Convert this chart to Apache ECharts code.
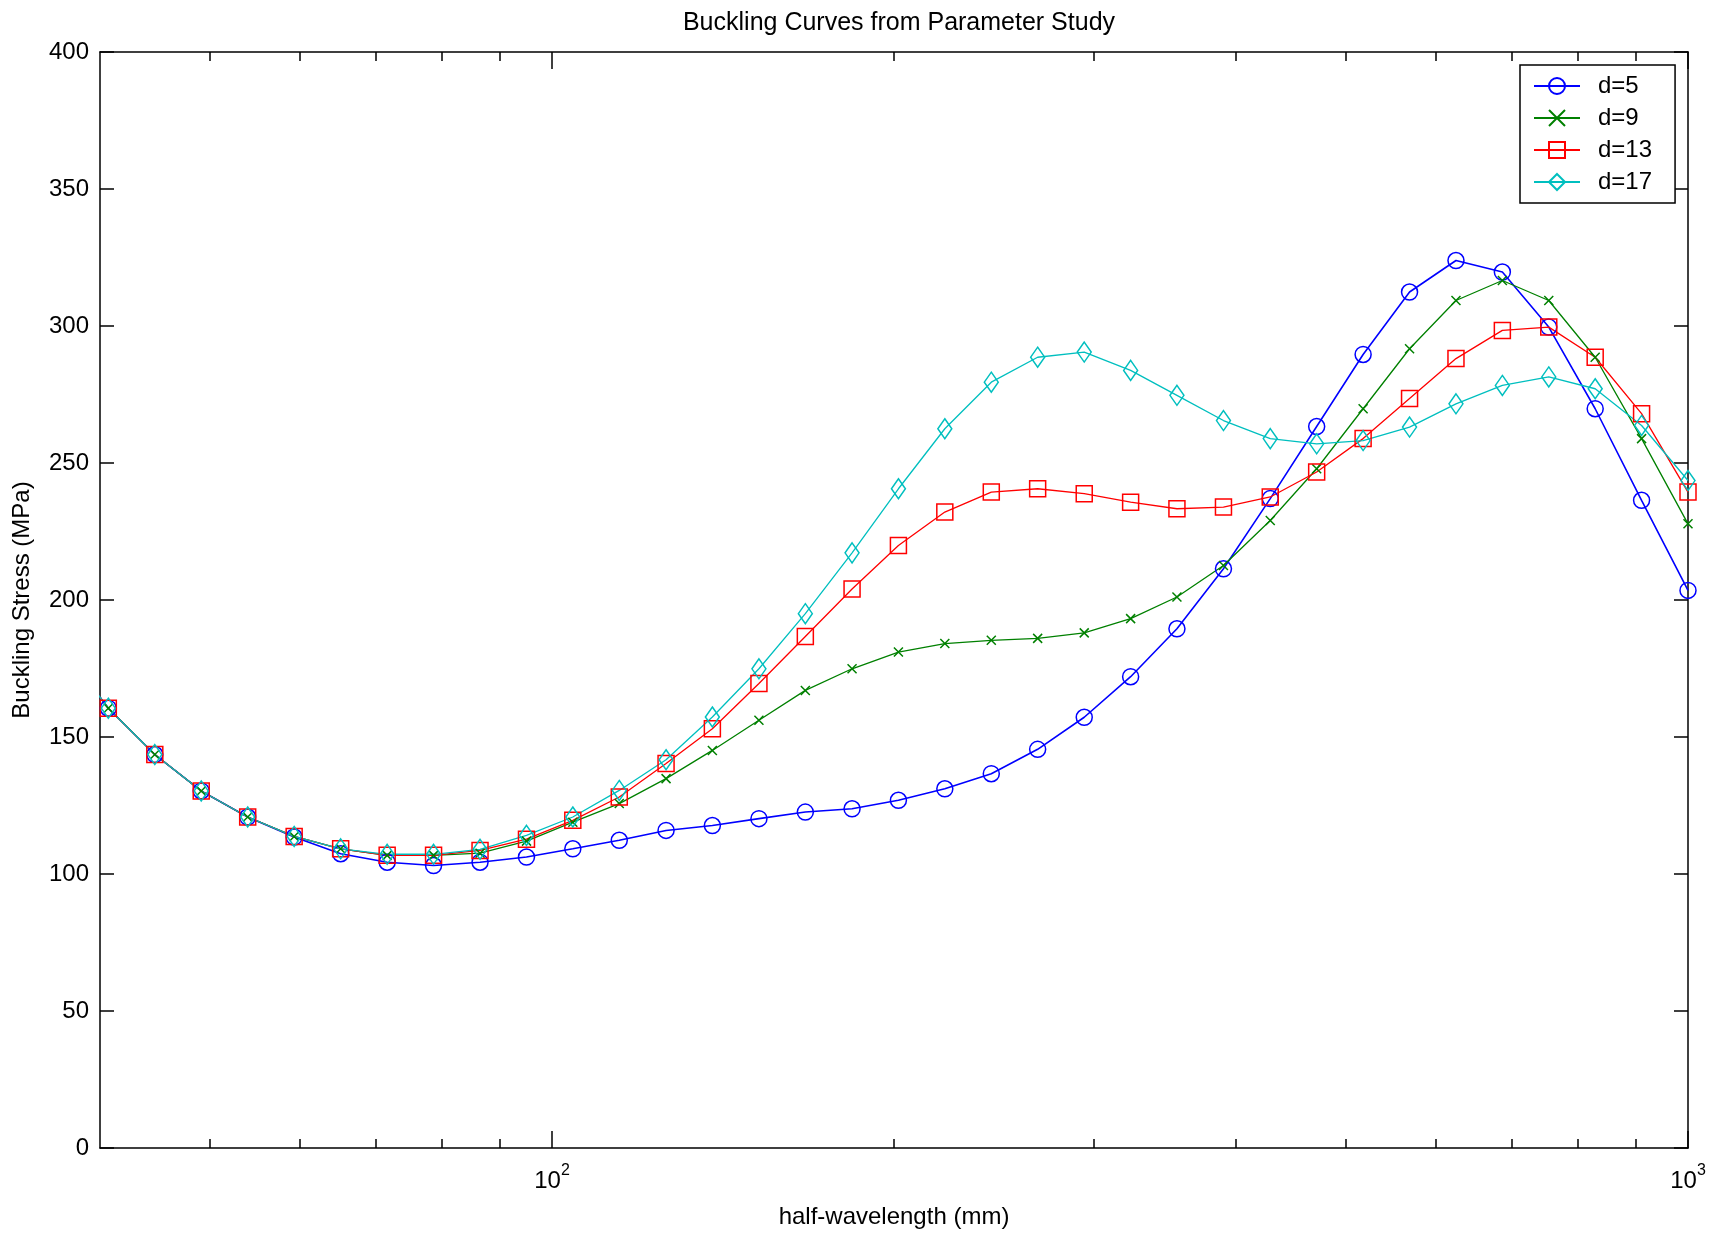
<!DOCTYPE html>
<html><head><meta charset="utf-8">
<script src="https://cdn.jsdelivr.net/npm/echarts@6/dist/echarts.min.js"></script>
<style>html,body{margin:0;padding:0;background:#fff}#c{width:1722px;height:1235px}</style>
</head><body><div id="c"></div>
<script>
// half-wavelength (mm) sample points (first point lies just left of the axis and is clipped)
const halfWavelength = [37.02, 40.68, 44.70, 49.11, 53.96, 59.29, 65.15, 71.59, 78.65, 86.42, 94.95, 104.3, 114.6, 126.0, 138.4, 152.1, 167.1, 183.7, 201.8, 221.7, 243.6, 267.6, 294.1, 323.1, 354.9, 390.0, 428.8, 471.1, 517.6, 568.7, 624.8, 686.4, 754.1, 828.5, 910.2, 1000];
const d5  = [183, 160.5, 143.6, 130.3, 120.8, 113.5, 107.4, 104.3, 103.1, 104.3, 106.2, 109.2, 112.3, 115.9, 117.7, 120.2, 122.6, 123.8, 126.9, 131.1, 136.6, 145.5, 157.2, 172, 189.5, 211.4, 237.0, 263.3, 289.6, 312.4, 323.9, 319.7, 299.6, 269.8, 236.4, 203.5];
const d9  = [183, 160.5, 143.6, 130.3, 120.8, 113.7, 109.2, 106.8, 106.8, 107.6, 112, 118.9, 125.7, 134.8, 145.1, 156.1, 167.0, 174.9, 181.0, 184.1, 185.3, 186, 188, 193.2, 201.1, 212.6, 229.0, 247.9, 269.8, 291.7, 309.3, 316.6, 309.3, 288.6, 258.9, 227.8];
const d13 = [183, 160.5, 143.6, 130.3, 120.8, 113.7, 109.2, 106.8, 106.8, 108.6, 112.7, 119.6, 128.1, 140.3, 153.0, 169.5, 186.7, 204, 219.9, 232.1, 239.4, 240.6, 238.8, 235.7, 233.3, 233.9, 237.6, 246.7, 258.9, 273.5, 288.1, 298.4, 299.6, 288.6, 268.0, 239.4];
const d17 = [183, 160.5, 143.6, 130.3, 120.8, 113.7, 109.2, 107.2, 107.2, 109, 114.1, 120.8, 130.5, 141.7, 157.3, 174.9, 195.0, 217.2, 240.6, 262.5, 279.5, 288.6, 290.5, 283.8, 274.7, 265.5, 258.9, 257.0, 258.2, 263.1, 271.6, 278.3, 281.4, 277.1, 263.7, 243.6];
const seriesNames = ['d=5', 'd=9', 'd=13', 'd=17'];
const xMajorTicks = [100, 1000];
const xMinorTicks = [50, 60, 70, 80, 90, 200, 300, 400, 500, 600, 700, 800, 900];

const FONT = "'Liberation Sans', Arial, Helvetica, sans-serif";
const pair = arr => arr.map((v, i) => [halfWavelength[i], v]);

const chart = echarts.init(document.getElementById('c'), null, {renderer: 'canvas'});

const baseX = {
  type: 'log', logBase: 10, min: 40, max: 1000, gridIndex: 0,
  splitLine: {show: false}, minorTick: {show: false}
};

function mkSeries(name, data, color, symbol, size, lw) {
  return {
    name, type: 'line', data: pair(data), xAxisIndex: 0, yAxisIndex: 0,
    symbol, symbolSize: size, showAllSymbol: true, clip: true,
    lineStyle: {color, width: lw},
    itemStyle: {color: 'rgba(255,255,255,0)', borderColor: color, borderWidth: 1.5},
    emphasis: {disabled: true}
  };
}

const option = {
  animation: false,
  backgroundColor: '#fff',
  textStyle: {fontFamily: FONT},
  title: {
    text: 'Buckling Curves from Parameter Study',
    left: 894, top: 6, textAlign: 'center',
    textStyle: {fontFamily: FONT, fontSize: 25, fontWeight: 'normal', color: '#000'}
  },
  grid: {left: 100, right: 34, top: 52, bottom: 87, containLabel: false},
  legend: {
    data: seriesNames, orient: 'vertical', left: 1520, top: 65,
    itemWidth: 46, itemHeight: 20, itemGap: 8,
    padding: [9, 23, 9, 13],
    borderColor: '#000', borderWidth: 1.5, backgroundColor: '#fff',
    textStyle: {fontFamily: FONT, fontSize: 24, color: '#000', padding: [0, 0, 0, 13]},
    selectedMode: false
  },
  xAxis: [
    Object.assign({}, baseX, {
      position: 'bottom',
      name: 'half-wavelength (mm)', nameLocation: 'middle', nameGap: 57,
      nameTextStyle: {fontFamily: FONT, fontSize: 24, color: '#000'},
      axisLine: {show: true, onZero: false, lineStyle: {color: '#000', width: 1.5}},
      axisTick: {show: true, inside: true, length: 17, customValues: xMajorTicks, lineStyle: {color: '#000', width: 1.5}},
      axisLabel: {
        show: true, margin: 15, customValues: xMajorTicks,
        formatter: v => '{b|10}{s|' + Math.round(Math.log10(v)) + '}',
        rich: {
          b: {fontFamily: FONT, fontSize: 24, color: '#000', lineHeight: 30, verticalAlign: 'bottom'},
          s: {fontFamily: FONT, fontSize: 16, color: '#000', lineHeight: 16, verticalAlign: 'top'}
        }
      }
    }),
    Object.assign({}, baseX, {
      position: 'bottom',
      axisLine: {show: false, onZero: false},
      axisTick: {show: true, inside: true, length: 9, customValues: xMinorTicks, lineStyle: {color: '#000', width: 1.5}},
      axisLabel: {show: false}
    }),
    Object.assign({}, baseX, {
      position: 'top',
      axisLine: {show: true, onZero: false, lineStyle: {color: '#000', width: 1.5}},
      axisTick: {show: true, inside: true, length: 17, customValues: xMajorTicks, lineStyle: {color: '#000', width: 1.5}},
      axisLabel: {show: false}
    }),
    Object.assign({}, baseX, {
      position: 'top',
      axisLine: {show: false, onZero: false},
      axisTick: {show: true, inside: true, length: 9, customValues: xMinorTicks, lineStyle: {color: '#000', width: 1.5}},
      axisLabel: {show: false}
    })
  ],
  yAxis: [
    {
      type: 'value', min: 0, max: 400, interval: 50, position: 'left',
      name: 'Buckling Stress (MPa)', nameLocation: 'middle', nameGap: 66,
      nameTextStyle: {fontFamily: FONT, fontSize: 24, color: '#000'},
      splitLine: {show: false},
      axisLine: {show: true, onZero: false, lineStyle: {color: '#000', width: 1.5}},
      axisTick: {show: true, inside: true, length: 14, lineStyle: {color: '#000', width: 1.5}},
      axisLabel: {show: true, margin: 11, fontFamily: FONT, fontSize: 24, color: '#000'}
    },
    {
      type: 'value', min: 0, max: 400, interval: 50, position: 'right',
      splitLine: {show: false},
      axisLine: {show: true, onZero: false, lineStyle: {color: '#000', width: 1.5}},
      axisTick: {show: true, inside: true, length: 14, lineStyle: {color: '#000', width: 1.5}},
      axisLabel: {show: false}
    }
  ],
  series: [
    mkSeries(seriesNames[0], d5, '#0000ff', 'circle', 16, 1.6),
    mkSeries(seriesNames[1], d9, '#008000', 'path://M0,0L10,10M10,0L0,10', 9, 1.3),
    mkSeries(seriesNames[2], d13, '#ff0000', 'rect', 16, 1.3),
    mkSeries(seriesNames[3], d17, '#00bfbf', 'diamond', [14, 20], 1.3)
  ]
};
chart.setOption(option);
</script></body></html>
